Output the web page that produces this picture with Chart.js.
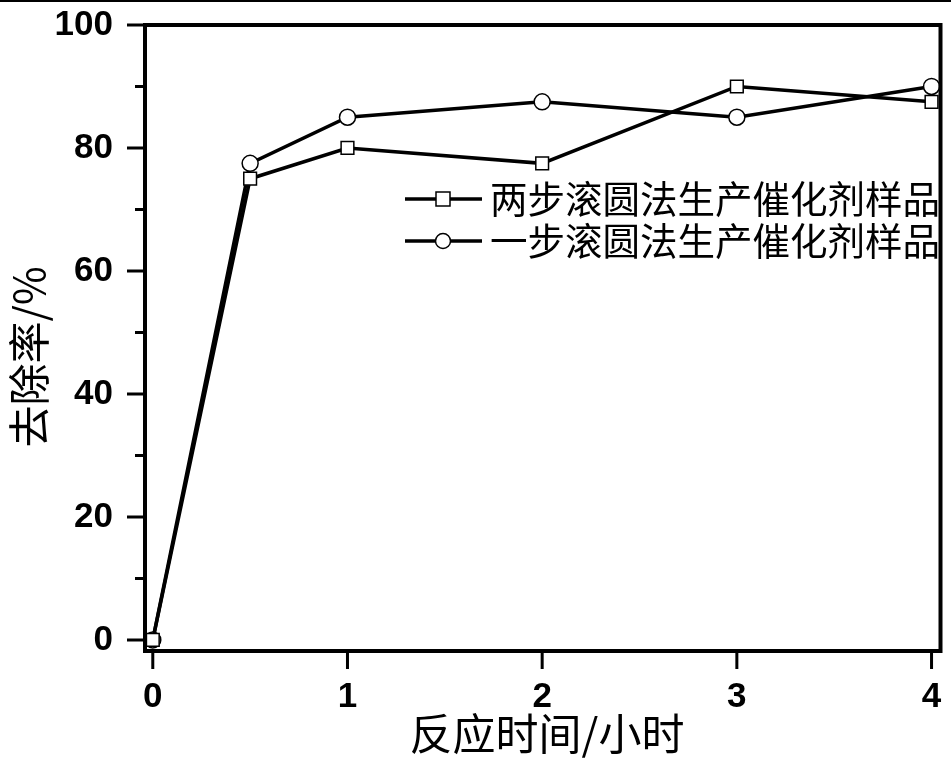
<!DOCTYPE html>
<html>
<head>
<meta charset="utf-8">
<script src="https://cdn.jsdelivr.net/npm/chart.js@4/dist/chart.umd.min.js"></script>
<style>
  html, body { margin: 0; padding: 0; background: #fff; }
  #wrap { width: 951px; height: 758px; }
</style>
</head>
<body>
<div id="wrap"><canvas id="chart" width="951" height="758"></canvas></div>
<script>
// reaction time (hours)
const hours = [0, 0.5, 1, 2, 3, 4];
// removal rate (%)
const twoStep = [0, 75, 80, 77.5, 90, 87.5];
const oneStep = [0, 77.5, 85, 87.5, 85, 90];
const seriesNames = ['两步滚圆法生产催化剂样品', '一步滚圆法生产催化剂样品'];
const xTitle = '反应时间/小时';
const yTitle = '去除率/%';
const yMajor = [0, 20, 40, 60, 80, 100];
const yMinor = [10, 30, 50, 70, 90];
const xMajor = [0, 1, 2, 3, 4];

const tickFont = { family: 'Liberation Sans, Arial, sans-serif', size: 35, weight: 'bold' };
const cjkFont = '"Noto Sans CJK SC", sans-serif';

function toPoints(ys) {
    return hours.map((h, i) => ({ x: h, y: ys[i] }));
}

// frame, ticks, titles and legend drawn by hand
const decorations = {
    id: 'decorations',
    afterDraw(chart) {
        const ctx = chart.ctx;
        const a = chart.chartArea;
        const xs = chart.scales.x;
        const ys = chart.scales.y;
        ctx.save();
        ctx.strokeStyle = '#000';
        ctx.fillStyle = '#000';

        // line along the top of the image
        ctx.lineWidth = 2;
        ctx.beginPath();
        ctx.moveTo(0, 1);
        ctx.lineTo(chart.width, 1);
        ctx.stroke();

        // plot box
        ctx.lineWidth = 4;
        ctx.strokeRect(a.left, a.top, a.right - a.left, a.bottom - a.top);

        // ticks
        ctx.lineWidth = 3;
        ctx.beginPath();
        yMajor.forEach(v => {
            const p = ys.getPixelForValue(v);
            ctx.moveTo(a.left - 18, p);
            ctx.lineTo(a.left, p);
        });
        yMinor.forEach(v => {
            const p = ys.getPixelForValue(v);
            ctx.moveTo(a.left - 10, p);
            ctx.lineTo(a.left, p);
        });
        xMajor.forEach(v => {
            const p = xs.getPixelForValue(v);
            ctx.moveTo(p, a.bottom);
            ctx.lineTo(p, a.bottom + 18);
        });
        ctx.stroke();

        // axis titles
        ctx.textAlign = 'center';
        ctx.textBaseline = 'middle';
        ctx.font = '43px ' + cjkFont;
        ctx.fillText(xTitle, 547, 734);
        ctx.save();
        ctx.translate(29, 357);
        ctx.rotate(-Math.PI / 2);
        ctx.font = '42px ' + cjkFont;
        ctx.fillText(yTitle, 0, 0);
        ctx.restore();

        // legend
        const rows = [199, 241];
        chart.data.datasets.forEach((ds, i) => {
            const y = rows[i];
            ctx.lineWidth = 3.5;
            ctx.beginPath();
            ctx.moveTo(405, y);
            ctx.lineTo(482, y);
            ctx.stroke();
            ctx.lineWidth = 1.5;
            ctx.fillStyle = '#fff';
            ctx.beginPath();
            if (ds.pointStyle === 'rect') {
                ctx.rect(436, y - 7, 14, 14);
            } else {
                ctx.arc(443, y, 7.5, 0, Math.PI * 2);
            }
            ctx.fill();
            ctx.stroke();
            ctx.fillStyle = '#000';
            ctx.font = '37.5px ' + cjkFont;
            ctx.textAlign = 'left';
            ctx.fillText(ds.label, 490, y);
        });
        ctx.restore();
    }
};

new Chart(document.getElementById('chart'), {
    type: 'line',
    data: {
        datasets: [
            {
                label: seriesNames[0],
                data: toPoints(twoStep),
                borderColor: '#000',
                borderWidth: 3.5,
                backgroundColor: '#fff',
                pointStyle: 'rect',
                pointRadius: 9,
                pointBorderWidth: 1.5,
                pointBorderColor: '#000',
                pointBackgroundColor: '#fff'
            },
            {
                label: seriesNames[1],
                data: toPoints(oneStep),
                borderColor: '#000',
                borderWidth: 3.5,
                backgroundColor: '#fff',
                pointStyle: 'circle',
                pointRadius: 8,
                pointBorderWidth: 1.5,
                pointBorderColor: '#000',
                pointBackgroundColor: '#fff'
            }
        ]
    },
    options: {
        responsive: false,
        animation: false,
        clip: false,
        layout: { padding: { left: 0, top: 25, right: 9, bottom: 0 } },
        plugins: { legend: { display: false }, tooltip: { enabled: false } },
        scales: {
            x: {
                type: 'linear',
                min: -0.04,
                max: 4.046,
                grid: { display: false },
                border: { display: false },
                ticks: { stepSize: 1, color: '#000', font: tickFont, padding: 17, maxRotation: 0 },
                afterBuildTicks: s => { s.ticks = xMajor.map(v => ({ value: v })); },
                afterFit: s => { s.height = 107; s.paddingLeft = 0; s.paddingRight = 0; }
            },
            y: {
                min: -1.8,
                max: 100,
                grid: { display: false },
                border: { display: false },
                ticks: { color: '#000', font: tickFont, padding: 24 },
                afterBuildTicks: s => { s.ticks = yMajor.map(v => ({ value: v })); },
                afterFit: s => { s.width = 145; s.paddingTop = 0; s.paddingBottom = 0; }
            }
        }
    },
    plugins: [decorations]
});
</script>
</body>
</html>
